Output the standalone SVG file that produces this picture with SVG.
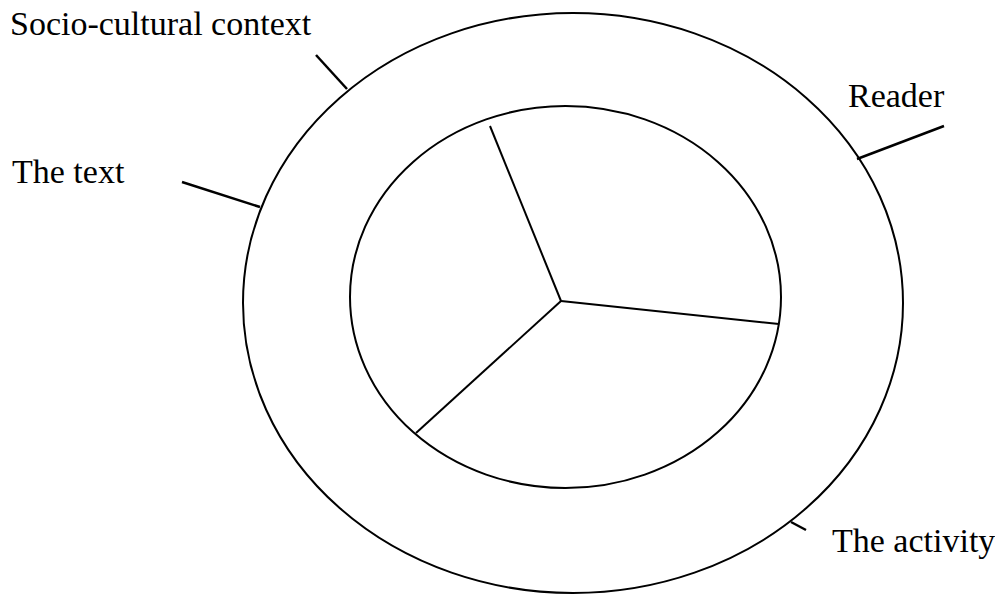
<svg xmlns="http://www.w3.org/2000/svg" width="995" height="594" viewBox="0 0 995 594">
<style>
.ring{fill:none;stroke:#000;stroke-width:2}
.ln{stroke:#000;stroke-width:2;fill:none}
.tick{stroke:#000;stroke-width:2.5;fill:none}
.lbl{font-family:"Liberation Serif","Times New Roman",serif;font-size:34px;fill:#000}
</style>
<rect width="995" height="594" fill="#fff"/>
<g id="outer"><ellipse class="ring" cx="573" cy="303" rx="330" ry="290"/></g>
<g id="inner"><ellipse class="ring" cx="565.5" cy="297" rx="215.5" ry="191"/></g>
<g id="connectors">
<line class="ln" x1="561" y1="301" x2="490" y2="126"/>
<line class="ln" x1="561" y1="301" x2="779" y2="324"/>
<line class="ln" x1="561" y1="301" x2="416" y2="433"/>
<line class="tick" x1="316" y1="55" x2="347" y2="89"/>
<line class="tick" x1="857" y1="159" x2="944" y2="126"/>
<line class="tick" x1="182" y1="182" x2="260" y2="207"/>
<line class="tick" x1="791" y1="522" x2="806" y2="530"/>
</g>
<g id="label-socio"><text class="lbl" x="10" y="35">Socio-cultural context</text></g>
<g id="label-reader"><text class="lbl" x="848" y="107">Reader</text></g>
<g id="label-text"><text class="lbl" x="12" y="183">The text</text></g>
<g id="label-activity"><text class="lbl" x="832" y="552">The activity</text></g>
</svg>
